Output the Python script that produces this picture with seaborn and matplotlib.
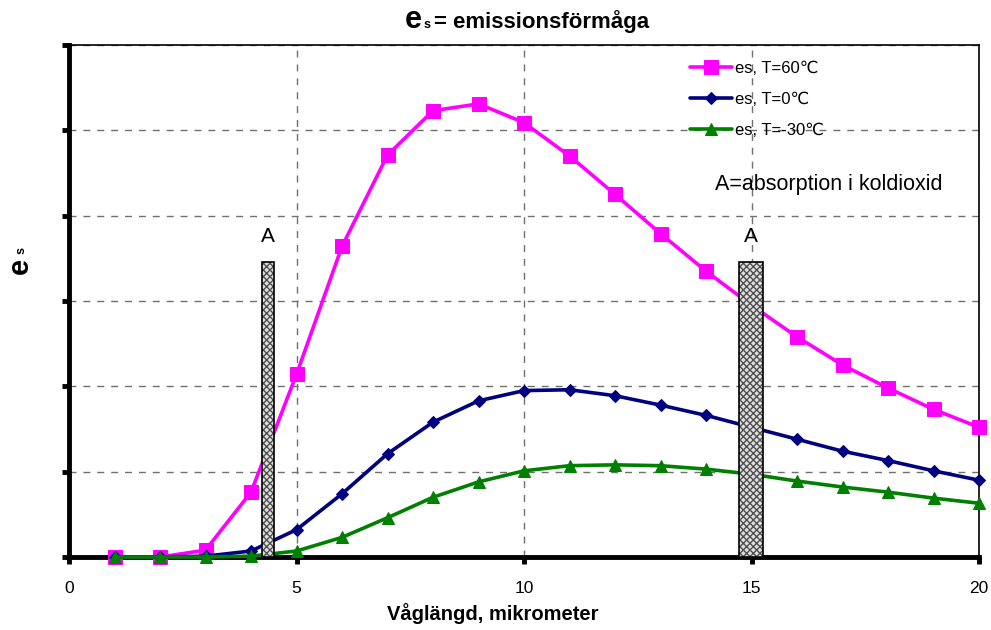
import matplotlib
matplotlib.use("Agg")
import matplotlib.pyplot as plt
import seaborn as sns
import pandas as pd

# våglängd i mikrometer
wavelength = list(range(1, 21))
es_60 = [0, 0, 0.8, 7.6, 21.4, 36.4, 47.1, 52.3, 53.1, 50.9,
         47.0, 42.5, 37.9, 33.5, 29.5, 25.8, 22.5, 19.8, 17.3, 15.2]
es_0 = [0, 0, 0.1, 0.7, 3.2, 7.4, 12.1, 15.8, 18.3, 19.5,
        19.6, 18.9, 17.8, 16.6, 15.2, 13.8, 12.4, 11.3, 10.1, 9.0]
es_m30 = [0, 0, 0, 0.1, 0.7, 2.3, 4.6, 7.0, 8.8, 10.1,
          10.7, 10.8, 10.7, 10.3, 9.7, 8.9, 8.2, 7.6, 6.9, 6.3]
series_labels = ["es, T=60\u2103", "es, T=0\u2103", "es, T=-30\u2103"]

# absorptionsband (CO2)
band_start = [4.24, 14.73]
band_width = [0.26, 0.52]
band_height = [34.6, 34.6]

df = pd.DataFrame({"x": wavelength * 3,
                   "y": es_60 + es_0 + es_m30,
                   "serie": [series_labels[0]] * 20 + [series_labels[1]] * 20 + [series_labels[2]] * 20})

sns.set_style("white")
plt.rcParams["font.family"] = ["Liberation Sans", "DejaVu Sans"]
plt.rcParams["text.color"] = "black"
plt.rcParams["axes.labelcolor"] = "black"

fig = plt.figure(figsize=(9.91, 6.30), dpi=100)
ax = fig.add_axes([69 / 991, 1 - 557 / 630, 910 / 991, 512 / 630])

colors = ["#FF00FF", "#000080", "#008000"]
markers = ["s", "D", "^"]
msizes = [9.5, 6.5, 9]
for lab, c, m, ms in zip(series_labels, colors, markers, msizes):
    sns.lineplot(data=df[df["serie"] == lab], x="x", y="y", ax=ax, color=c,
                 marker=m, markersize=ms, markeredgecolor=c, linewidth=2.6,
                 label=lab, zorder=5, clip_on=False)

# hatched bands above the curves
ax.bar(band_start, band_height, width=band_width, align="edge", facecolor="#e0e0e0",
       edgecolor="#505050", hatch="xxxxx", linewidth=0, zorder=6)
ax.bar(band_start, band_height, width=band_width, align="edge", fill=False,
       edgecolor="black", linewidth=1.2, zorder=7)
for s, w, h in zip(band_start, band_width, band_height):
    ax.text(s + w / 2, h + 1.8, "A", ha="center", va="bottom", fontsize=15)

ax.text(16.7, 43.6, "A=absorption i koldioxid", ha="center", va="center", fontsize=15.5)

ax.set_xlim(0, 20)
ax.set_ylim(0, 60)
ax.set_xticks([0, 5, 10, 15, 20])
ax.set_yticks(range(0, 61, 10))
ax.set_yticklabels([])
ax.set_xlabel("")
ax.set_ylabel("")
ax.tick_params(axis="both", direction="out", length=5, width=3.5, colors="black",
               labelsize=12.5, pad=12, left=True, bottom=True)
ax.grid(True, color="#707070", linestyle=(0, (5, 5)), linewidth=1)

for side in ["left", "bottom"]:
    ax.spines[side].set_linewidth(3.5)
    ax.spines[side].set_color("black")
    ax.spines[side].set_zorder(4)
for side in ["top", "right"]:
    ax.spines[side].set_linewidth(1.2)
    ax.spines[side].set_color("black")
    ax.spines[side].set_visible(True)

leg = ax.legend(loc="upper left", bbox_to_anchor=(0.666, 0.998), frameon=False,
                fontsize=12, handlelength=2.5, labelspacing=0.95, handletextpad=0.2)

# titel och axeltexter
fig.text(405 / 991, 1 - 28 / 630, "e", fontsize=22, fontweight="bold", ha="left", va="baseline")
fig.text(424 / 991, 1 - 28 / 630, "s", fontsize=9, fontweight="bold", ha="left", va="baseline")
fig.text(434 / 991, 1 - 28 / 630, "= emissionsförmåga", fontsize=16, fontweight="bold",
         ha="left", va="baseline")
fig.text(493 / 991, 1 - 614 / 630, "Våglängd, mikrometer", fontsize=14.5, fontweight="bold",
         ha="center", va="center")
fig.text(20 / 991, 1 - 266 / 630, "e", fontsize=21, fontweight="bold", rotation=90,
         ha="center", va="center")
fig.text(22 / 991, 1 - 251 / 630, "s", fontsize=9, fontweight="bold", rotation=90,
         ha="center", va="center")

fig.savefig("out.png", dpi=100)
